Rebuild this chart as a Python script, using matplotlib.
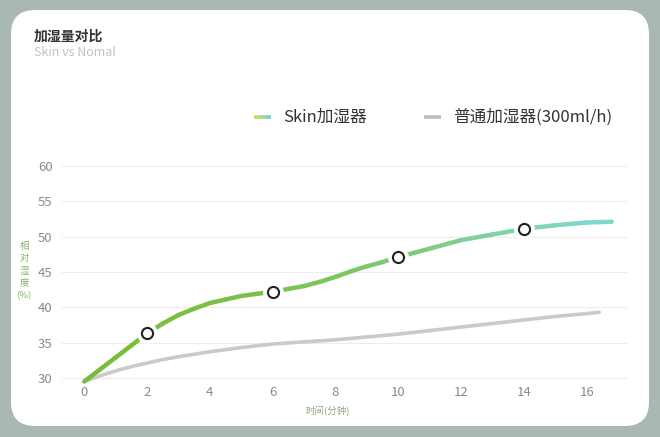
import numpy as np
import matplotlib
matplotlib.use("Agg")
import matplotlib.pyplot as plt
from matplotlib.collections import LineCollection
from matplotlib.patches import FancyBboxPatch
from matplotlib.colors import to_rgb

plt.rcParams['font.family'] = ['Noto Sans CJK SC', 'DejaVu Sans']

# data
minutes = [0, 0.5, 1, 1.5, 2, 2.5, 3, 3.5, 4, 4.5, 5, 5.5, 6, 6.5, 7, 7.5, 8, 8.5,
           9, 9.5, 10, 11, 12, 13, 14, 15, 16, 16.8]
skin = [29.5, 31.2, 32.9, 34.6, 36.3, 37.7, 38.9, 39.8, 40.6, 41.1, 41.6, 41.9,
        42.2, 42.6, 43.0, 43.6, 44.3, 45.1, 45.8, 46.4, 47.1, 48.3, 49.5, 50.3,
        51.1, 51.6, 52.0, 52.1]
normal_min = [0, 0.5, 1, 1.5, 2, 2.5, 3, 4, 5, 6, 7, 8, 9, 10, 11, 12, 13, 14,
              15, 16, 16.4]
normal = [29.5, 30.3, 31.0, 31.6, 32.1, 32.6, 33.0, 33.7, 34.3, 34.8, 35.1,
          35.4, 35.8, 36.2, 36.7, 37.2, 37.7, 38.2, 38.7, 39.1, 39.3]
mark_x = [2, 6, 10, 14]
mark_y = [36.3, 42.2, 47.1, 51.1]
yticks = [30, 35, 40, 45, 50, 55, 60]
xticks = [0, 2, 4, 6, 8, 10, 12, 14, 16]

# colour stops of the skin line along x
grad_x = [0, 6, 10, 14, 16.8]
grad_c = ['#77bd3b', '#7bc24b', '#80c974', '#80d3b4', '#7ddad2']

W, H = 660, 437
fig = plt.figure(figsize=(W / 100, H / 100), dpi=100, facecolor='#a9b8b2')

# white card with rounded corners
bg = fig.add_axes([0, 0, 1, 1])
bg.set_xlim(0, W)
bg.set_ylim(H, 0)
bg.axis('off')
bg.add_patch(FancyBboxPatch((11, 10), 638, 416, boxstyle='round,pad=0,rounding_size=24',
                            fc='white', ec='none'))

# legend swatches (pixel coords on background axes)
c0, c1 = np.array(to_rgb('#d6d65a')), np.array(to_rgb('#6fd3c4'))
lx = np.linspace(254, 271, 12)
segs = [[(lx[i], 117), (lx[i + 1], 117)] for i in range(len(lx) - 1)]
cols = [c0 + (c1 - c0) * t for t in np.linspace(0, 1, len(segs))]
bg.add_collection(LineCollection(segs, colors=cols, linewidths=2.6, capstyle='butt'))
bg.plot([424, 441], [117, 117], color='#bdbdbd', lw=2.6, solid_capstyle='butt')
bg.text(283, 117, 'Skin加湿器', fontsize=12, color='#333333', va='center', ha='left')
bg.text(453, 117, '普通加湿器(300ml/h)', fontsize=12, color='#333333', va='center', ha='left')

# titles
bg.text(34, 37, '加湿量对比', fontsize=10, color='#333333', va='center', ha='left',
        fontweight='bold')
bg.text(34, 53, 'Skin vs Nomal', fontsize=9, color='#c2c2c2', va='center', ha='left')

# axis captions
bg.text(24, 271, '相\n对\n湿\n度\n(%)', fontsize=6.8, color='#86b86a', ha='center',
        va='center', linespacing=1.45)
bg.text(328, 411, '时间(分钟)', fontsize=6.8, color='#8aa87c', ha='center', va='center')

# main chart
ax = fig.add_axes([62.3 / W, 1 - 385 / H, (627.5 - 62.3) / W, (385 - 162.4) / H])
ax.set_xlim(-0.7, 17.3)
ax.set_ylim(29.0, 60.5)
ax.patch.set_alpha(0)
for s in ax.spines.values():
    s.set_visible(False)
ax.set_yticks(yticks)
ax.set_xticks(xticks)
ax.tick_params(length=0, labelsize=9.5, labelcolor='#8a8a8a')
ax.tick_params(axis='x', pad=1)
ax.tick_params(axis='y', pad=7)
ax.grid(axis='y', color='#ededed', lw=0.8)
ax.set_axisbelow(True)

ax.plot(normal_min, normal, color='#cacaca', lw=2.6, solid_capstyle='round', zorder=2,
        clip_on=False)

# gradient green -> teal line
gc = np.array([to_rgb(c) for c in grad_c])
pts = np.column_stack([minutes, skin])
segs = np.stack([pts[:-1], pts[1:]], axis=1)
mids = (np.array(minutes[:-1]) + np.array(minutes[1:])) / 2
cols = np.column_stack([np.interp(mids, grad_x, gc[:, k]) for k in range(3)])
ax.add_collection(LineCollection(segs, colors=cols, linewidths=3.2, capstyle='round',
                                 joinstyle='round', zorder=3, clip_on=False))

ax.plot(mark_x, mark_y, 'o', ms=14, mfc='white', mec='white', zorder=4)
ax.plot(mark_x, mark_y, 'o', ms=8, mfc='white', mec='#222222', mew=1.5, zorder=5)

fig.savefig('out.png', dpi=100, facecolor=fig.get_facecolor())
